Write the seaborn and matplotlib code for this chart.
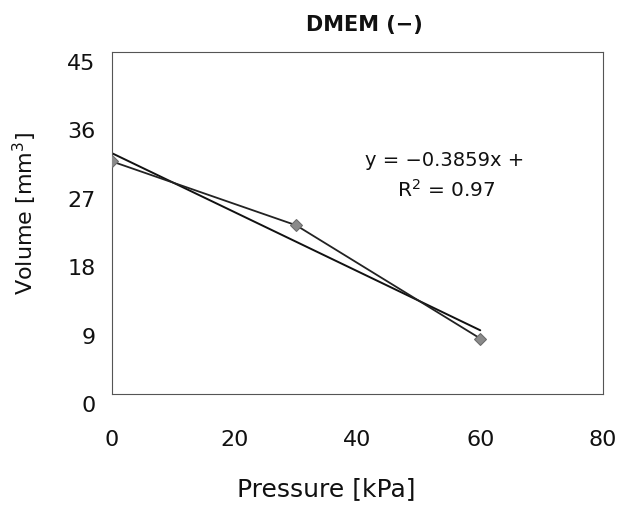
import matplotlib
matplotlib.use("Agg")
import matplotlib.pyplot as plt
import matplotlib.transforms as mtransforms
import numpy as np
import pandas as pd
import seaborn as sns

# data
pressure = [0, 30, 60]
volume = [30.6, 22.2, 7.3]
x_ticks = [0, 20, 40, 60, 80]
y_ticks = [0, 9, 18, 27, 36, 45]
title = "DMEM (\u2212)"
eq_text = "y = \u22120.3859x +"
r2_text = "R$^2$ = 0.97"

df = pd.DataFrame({"Pressure": pressure, "Volume": volume})

sns.set_theme(style="white")
plt.rcParams["font.family"] = ["DejaVu Sans"]
plt.rcParams["mathtext.fontset"] = "dejavusans"

W, H = 621, 506
L, R, T, B = 112, 603, 53, 395
fig = plt.figure(figsize=(W / 100, H / 100), dpi=100)
ax = fig.add_axes([L / W, 1 - B / H, (R - L) / W, (B - T) / H])

sns.lineplot(data=df, x="Pressure", y="Volume", ax=ax, color="#222222", lw=1.3,
             marker="D", markersize=6.5, markerfacecolor="#8a8a8a",
             markeredgecolor="#6a6a6a", zorder=3)
sns.regplot(data=df, x="Pressure", y="Volume", ax=ax, ci=None, scatter=False,
            truncate=True, line_kws={"color": "#111111", "lw": 1.4})

ax.set_xlim(0, 80)
ax.set_ylim(0, 45)
ax.set_xticks(x_ticks)
ax.set_yticks(y_ticks)
ax.tick_params(axis="both", direction="in", length=4, width=0.8, colors="#333333",
               labelsize=16, labelcolor="#111111")
ax.tick_params(axis="x", pad=25)
ax.tick_params(axis="y", pad=12)
for lab in ax.get_yticklabels():
    lab.set_transform(lab.get_transform() + mtransforms.ScaledTranslation(0, -9 / 100, fig.dpi_scale_trans))

for s in ax.spines.values():
    s.set_color("#555555")
    s.set_linewidth(0.8)

ax.set_xlabel("Pressure [kPa]", fontsize=18, color="#111111", va="center")
ax.xaxis.set_label_coords((326 - L) / (R - L), (B - 489) / (B - T))
ax.set_ylabel("Volume [mm$^3$]", fontsize=16, color="#111111", va="center")
ax.yaxis.set_label_coords((25 - L) / (R - L), (B - 213) / (B - T))

fig.text(364 / W, 1 - 25 / H, title, ha="center", va="center", fontsize=15,
         fontweight="bold", color="#111111")
fig.text(445 / W, 1 - 161 / H, eq_text, ha="center", va="center", fontsize=14, color="#111111")
fig.text(446 / W, 1 - 190 / H, r2_text, ha="center", va="center", fontsize=14.5, color="#111111")

fig.savefig("out.png", dpi=100, facecolor="white")
